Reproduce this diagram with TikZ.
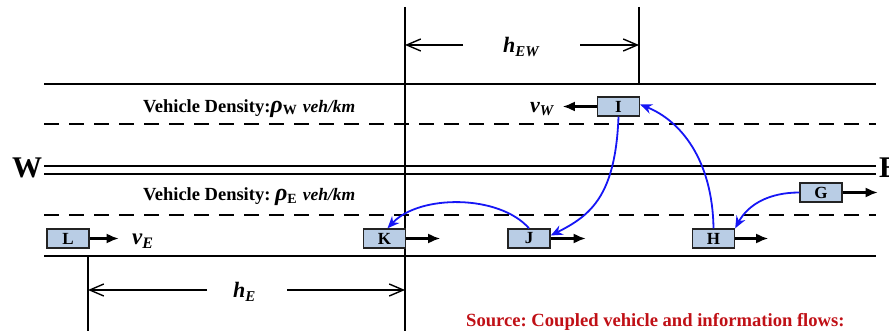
\documentclass[tikz,border=0pt]{standalone}
\usepackage{fontspec}
\setmainfont{Liberation Serif}
\usetikzlibrary{arrows.meta}

\definecolor{carfill}{RGB}{185,205,229}
\definecolor{carline}{RGB}{35,35,35}
\definecolor{linkblue}{RGB}{22,22,245}
\definecolor{srcred}{RGB}{192,16,22}

\newcommand{\fsz}[1]{\fontsize{#1}{#1}\selectfont}
\frenchspacing

\begin{document}
\begin{tikzpicture}[x=1pt,y=-1pt,
  road/.style={line width=2pt},
  laneline/.style={line width=2.4pt, dash pattern=on 15pt off 10pt},
  guide/.style={line width=1.4pt},
  dimarrow/.style={line width=1.4pt, -{Straight Barb[length=14pt,width=12pt,line width=1.4pt]}},
  car/.style={draw=carline, fill=carfill, line width=1.4pt, minimum width=42pt,
              minimum height=19pt, inner sep=0pt, font=\fsz{17}\bfseries},
  move/.style={line width=2.1pt, -{Latex[length=12pt,width=10pt]}},
  link/.style={draw=linkblue, line width=1.8pt, -{Stealth[length=12pt,width=10pt]}},
  lbl/.style={anchor=base west, inner sep=0pt}
]
\useasboundingbox (0,0) rectangle (889,331);

% road edges and lane markings
\draw[road] (44,84) -- (876,84);
\draw[laneline] (44,124) -- (876,124);
\draw[line width=1.6pt] (44,166) -- (876,166);
\draw[line width=1.6pt] (44,174) -- (876,174);
\draw[laneline] (44,215) -- (876,215);
\draw[line width=2.4pt] (44,256) -- (876,256);

% reference lines for the headways
\draw[guide] (405,7) -- (405,335);
\draw[guide] (639,7) -- (639,84);
\draw[guide] (88,256) -- (88,335);

% headway h_EW
\coordinate (ewL) at (405,45);
\coordinate (ewR) at (639,45);
\coordinate (ewA) at (463,45);
\coordinate (ewB) at (580,45);
\node[lbl] (hEW) at (503,53) {{\fsz{22}\bfseries\itshape h}\raisebox{-4pt}{\fsz{15}\bfseries\itshape EW}};
\draw[dimarrow] (ewA) -- (ewL);
\draw[dimarrow] (ewB) -- (ewR);

% headway h_E
\coordinate (eL) at (88,290);
\coordinate (eR) at (405,290);
\coordinate (eA) at (207,290);
\coordinate (eB) at (287,290);
\node[lbl] (hE) at (233,298) {{\fsz{22}\bfseries\itshape h}\raisebox{-4pt}{\fsz{15}\bfseries\itshape E}};
\draw[dimarrow] (eA) -- (eL);
\draw[dimarrow] (eB) -- (eR);

% direction letters
\node[lbl] (west) at (12,178) {\fsz{30}\bfseries W};
\node[lbl] (east) at (879,178) {\fsz{30}\bfseries E};

% lane densities
\node[lbl] (densW) at (143,113) {\fsz{18.5}\bfseries Vehicle Density:{\fsz{24}\itshape ρ}\raisebox{-2pt}{\fsz{14}W}\hspace{6pt}{\fsz{17.5}\itshape veh/km}};
\node[lbl] (densE) at (143,201) {\fsz{18.5}\bfseries Vehicle Density: {\fsz{24}\itshape ρ}\raisebox{-2pt}{\fsz{14}E}\hspace{6pt}{\fsz{17.5}\itshape veh/km}};

% vehicles
\node[car] (L) at (68,238.5) {L};
\node[car] (K) at (384.5,238.5) {K};
\node[car] (J) at (529,238.5) {J};
\node[car] (H) at (713.5,238.5) {H};
\node[car] (G) at (821,192.5) {G};
\node[car] (I) at (618.5,106.5) {I};

% travel directions
\draw[move] (L.east) -- ++(29,0);
\draw[move] (K.east) -- ++(34,0);
\draw[move] (J.east) -- ++(35,0);
\draw[move] (H.east) -- ++(33,0);
\draw[move] (G.east) -- ++(35,0);
\draw[move] (I.west) -- ++(-34,0);

% speeds
\node[lbl] (vE) at (132,245) {{\fsz{23}\bfseries\itshape v}\raisebox{-4pt}{\fsz{16}\bfseries\itshape E}};
\node[lbl] (vW) at (530,113) {{\fsz{22}\bfseries\itshape v}\raisebox{-3pt}{\fsz{15}\bfseries\itshape W}};

% information hops
\draw[link] (J.north) .. controls +(-30,-34) and +(32,-34) .. ([xshift=3pt]K.north);
\draw[link] (I.south) .. controls +(-3,79) and +(40,-20) .. ([yshift=3pt]J.east);
\draw[link] (H.north) .. controls +(-1,-69) and +(40,16) .. ([yshift=2pt]I.east);
\draw[link] (G.west) .. controls +(-30,0) and +(13,-24) .. (H.north east);

% source line
\node[lbl, text=srcred] (src) at (466,326) {\fsz{18.6}\bfseries Source: Coupled vehicle and information flows:};
\end{tikzpicture}
\end{document}
